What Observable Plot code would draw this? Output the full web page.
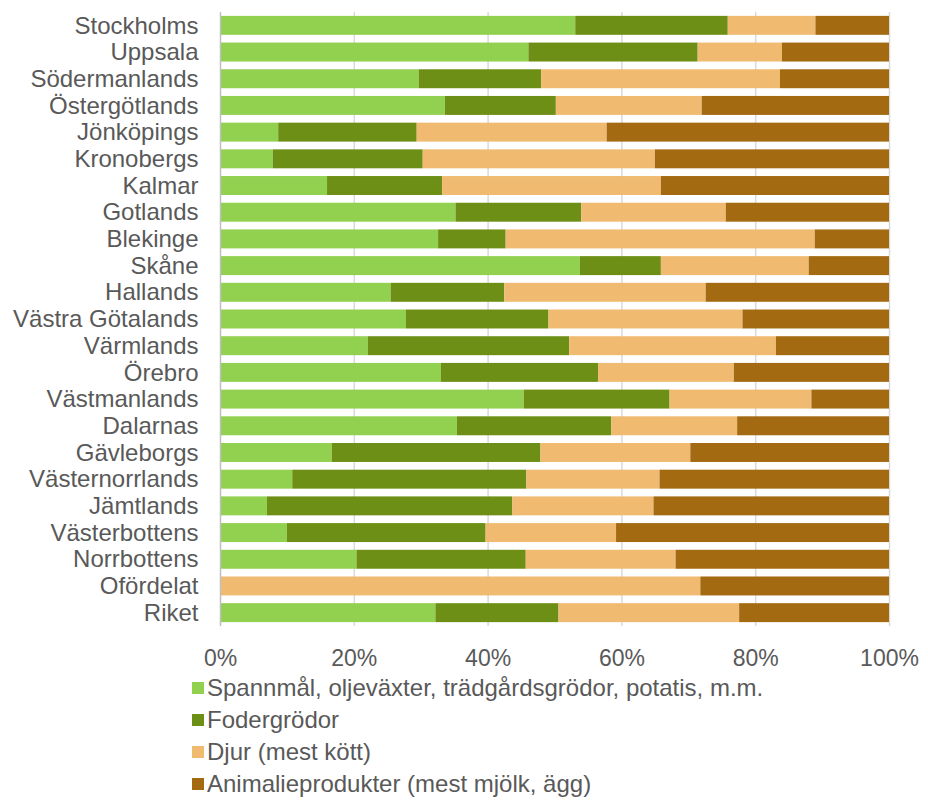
<!DOCTYPE html>
<html>
<head>
<meta charset="utf-8">
<script src="https://cdn.jsdelivr.net/npm/d3@7"></script>
<script src="https://cdn.jsdelivr.net/npm/@observablehq/plot@0.6"></script>
<style>
  html, body { margin: 0; padding: 0; background: #fff; }
  #chart { width: 928px; }
  .legend { padding-left: 192px; font-family: "Liberation Sans", Arial, sans-serif; font-size: 24px; color: #595959; }
  .legend .row { height: 32px; display: flex; align-items: center; white-space: nowrap; }
  .legend .sw { width: 12px; height: 12px; margin-right: 3px; flex: none; }
</style>
</head>
<body>
<div id="chart"></div>
<script>
const regions = ["Stockholms","Uppsala","Södermanlands","Östergötlands","Jönköpings","Kronobergs","Kalmar","Gotlands","Blekinge","Skåne","Hallands","Västra Götalands","Värmlands","Örebro","Västmanlands","Dalarnas","Gävleborgs","Västernorrlands","Jämtlands","Västerbottens","Norrbottens","Ofördelat","Riket"];
const categories = ["Spannmål, oljeväxter, trädgårdsgrödor, potatis, m.m.","Fodergrödor","Djur (mest kött)","Animalieprodukter (mest mjölk, ägg)"];
const colors = ["#92D050","#6E8F16","#F0BB70","#A46A12"];
const spannmal = [53.1,46.1,29.7,33.6,8.7,7.9,16.0,35.2,32.6,53.8,25.5,27.8,22.1,33.0,45.4,35.4,16.7,10.8,7.0,10.0,20.4,0,32.2];
const foder    = [22.8,25.3,18.3,16.6,20.7,22.4,17.2,18.8,10.1,12.1,17.0,21.3,30.1,23.5,21.8,23.1,31.2,35.0,36.7,29.7,25.3,0,18.4];
const djur     = [13.1,12.6,35.7,21.8,28.4,34.7,32.7,21.6,46.2,22.1,30.1,29.0,30.9,20.3,21.2,18.8,22.4,19.9,21.1,19.5,22.4,71.8,27.0];
const animalie = [11.0,16.0,16.3,28.0,42.2,35.0,34.1,24.4,11.1,12.0,27.4,21.9,16.9,23.2,11.6,22.7,29.7,34.3,35.2,40.8,31.9,28.2,22.4];
const xTicks = [0,20,40,60,80,100];

const series = [spannmal, foder, djur, animalie];
const rows = [];
regions.forEach((r, i) => {
  series.forEach((s, j) => rows.push({region: r, cat: categories[j], value: s[i]}));
});

const chart = Plot.plot({
  width: 928,
  height: 672,
  marginLeft: 220,
  marginRight: 39,
  marginTop: 12,
  marginBottom: 46,
  style: {fontFamily: "'Liberation Sans', Arial, sans-serif", fontSize: "24px", color: "#595959", background: "#fff"},
  x: {domain: [0, 100], ticks: xTicks, tickFormat: d => d + "%", label: null},
  y: {domain: regions, paddingInner: 0.29, paddingOuter: 0.145, round: false, label: null},
  color: {domain: categories, range: colors},
  marks: [
    Plot.ruleX(xTicks.slice(1), {stroke: "#d9d9d9", strokeWidth: 1.5}),
    Plot.barX(rows, Plot.stackX({y: "region", x: "value", fill: "cat"})),
    Plot.ruleX([0], {stroke: "#bfbfbf", strokeWidth: 1.5}),
    Plot.axisX({ticks: xTicks, tickFormat: d => d + "%", tickSize: 0, tickPadding: 23, fontSize: 23, label: null, fill: "#595959"}),
    Plot.axisY({tickSize: 0, tickPadding: 22, fontSize: 24, label: null, fill: "#595959"})
  ]
});
const root = document.getElementById("chart");
root.appendChild(chart);

const legend = document.createElement("div");
legend.className = "legend";
categories.forEach((c, i) => {
  const row = document.createElement("div");
  row.className = "row";
  const sw = document.createElement("span");
  sw.className = "sw";
  sw.style.background = colors[i];
  const t = document.createElement("span");
  t.textContent = c;
  row.appendChild(sw);
  row.appendChild(t);
  legend.appendChild(row);
});
root.appendChild(legend);
</script>
</body>
</html>
